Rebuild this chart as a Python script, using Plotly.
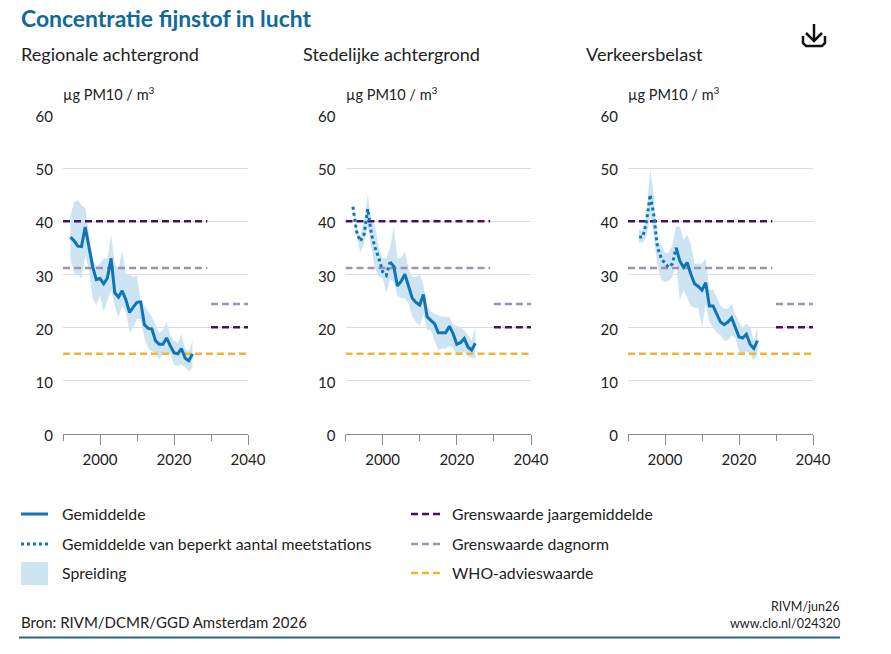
import plotly.graph_objects as go

W = 891
H = 654

# jaren
years_reg = list(range(1992, 2026))
years_ste = list(range(1992, 2026))
years_ver = list(range(1993, 2026))

# regionale achtergrond
reg_mean = [37, 36.3, 35.3, 35.2, 38.9, 35, 31.5, 29, 29.2, 28.2, 29.3, 33, 26.5, 25.7, 26.9, 25.2, 22.8,
            23.8, 24.7, 24.8, 20.5, 19.8, 19.7, 17.5, 16.8, 16.8, 18, 16.5, 15.2, 15, 16, 14.2, 13.7, 15]
reg_high = [41, 43.5, 44, 43, 42.5, 38, 33, 31.5, 32, 33, 33, 37.5, 32, 31, 34.5, 30, 30,
            29.5, 29.7, 25, 24, 23.2, 22, 20.5, 19, 19.5, 21, 18.5, 17.5, 17, 18.7, 16, 15.5, 17.5]
reg_low = [33, 30.2, 30, 29.2, 33.5, 31, 25.5, 24.2, 26, 23, 25, 27, 24, 22, 24, 23, 19,
           20, 21.5, 21.5, 18, 16, 15.5, 15.2, 14, 15, 15, 15, 13, 12.7, 13, 12.5, 11.7, 12.5]

# stedelijke achtergrond
ste_dot_years = list(range(1992, 2003))
ste_dot = [42.7, 38, 36.2, 37.5, 42.3, 37.5, 35, 33, 30.5, 29.8, 32.3]
ste_line_years = list(range(2002, 2026))
ste_line = [32.3, 31.5, 27.8, 28.7, 30, 27.8, 25.5, 24.7, 24.2, 26.2, 22, 21.3, 20.7, 19, 19, 19,
            20.2, 18.8, 16.8, 17.1, 17.9, 16.3, 15.7, 17]
ste_high = [42.7, 39, 37, 40, 45, 40, 39, 35, 33, 33, 35, 39, 33, 33, 34.3, 31, 29.5, 29.5, 30, 28,
            24, 23, 22.5, 22.3, 22, 22, 22, 20.5, 20.2, 20, 19.5, 18.5, 17.5, 20]
ste_low = [42.7, 37, 34, 36, 39, 35, 31, 29.5, 29.3, 26.5, 29, 28.5, 26, 25.5, 25.5, 24.5, 22, 21, 20.3, 22.5,
           19.5, 19.5, 17.5, 15.8, 16, 16, 16.5, 16, 15, 14.8, 15.5, 14.5, 14.2, 14.2]

# verkeersbelast
ver_dot_years = list(range(1993, 2004))
ver_dot = [37, 37, 40, 45, 41, 35, 33, 32, 31.3, 32, 35]
ver_line_years = list(range(2003, 2026))
ver_line = [35, 32.5, 31.3, 32.2, 30, 28.2, 27.7, 27, 28.4, 24, 24, 22.6, 21, 20.5, 21, 21.8, 20,
            18.2, 18, 18.7, 16.8, 16, 17.5]
ver_high = [38.5, 38, 41, 50, 44.5, 36, 35.5, 34, 34, 35.5, 39, 39, 36.5, 37.5, 35.5, 32, 32, 32, 33,
            27, 27.2, 25.5, 24, 23.5, 23.5, 24.5, 22.5, 21, 20, 20.7, 20, 17.5, 20]
ver_low = [36, 36, 37, 41, 37, 31.5, 29, 28.5, 28.8, 29.5, 32, 25, 27, 25.5, 24, 23.7, 23.7, 20, 24.5,
           21, 20, 19, 18.5, 17.5, 17.5, 18.5, 18, 15.5, 15, 15.5, 15, 13.7, 15]

# grenswaarden
limit_years = [1990, 2029]
future_years = [2030, 2040]
who_years = [1990, 2040]
jaar_now = 40
jaar_future = 20
dag_now = 31.2
dag_future = 24.4
who = 15

y_ticks = [0, 10, 20, 30, 40, 50, 60]
x_major = [2000, 2020, 2040]
x_minor = [1990, 2010, 2030]

titles = ["Regionale achtergrond", "Stedelijke achtergrond", "Verkeersbelast"]
legend_left = ["Gemiddelde", "Gemiddelde van beperkt aantal meetstations", "Spreiding"]
legend_right = ["Grenswaarde jaargemiddelde", "Grenswaarde dagnorm", "WHO-advieswaarde"]

BLUE = "#0f75b5"
BAND = "#cde4f3"
VIOLET = "#42145f"
LILAC = "#a191b5"
YELLOW = "#f2b632"
TEXT = "#222222"
FONT = "Lato"
DASH = "7px,4px"

panels = [
    dict(x0=63, x1=248, band_x=years_reg, high=reg_high, low=reg_low, dot_x=None, dot=None,
         line_x=years_reg, line=reg_mean),
    dict(x0=345.5, x1=531, band_x=years_ste, high=ste_high, low=ste_low, dot_x=ste_dot_years, dot=ste_dot,
         line_x=ste_line_years, line=ste_line),
    dict(x0=628, x1=813, band_x=years_ver, high=ver_high, low=ver_low, dot_x=ver_dot_years, dot=ver_dot,
         line_x=ver_line_years, line=ver_line),
]


def px(x):
    return x / W


def py(y):
    return 1 - y / H


def label(x, y, text, size=15.8, color=TEXT, anchor="left", family=FONT):
    # annotaties krijgen standaard een rand van 1px + pad, dat hier terugschuiven
    shift = -2 if anchor == "left" else 2
    return dict(xref="paper", yref="paper", x=px(x), y=py(y), text=text, showarrow=False, xanchor=anchor,
                yanchor="middle", align=anchor, xshift=shift, yshift=1,
                font=dict(family=family, size=size, color=color))


fig = go.Figure()
annotations = []
shapes = []

for i, p in enumerate(panels):
    n = "" if i == 0 else str(i + 1)
    xa = "x" + n
    ya = "y" + n
    fig.update_layout({
        "xaxis" + n: dict(
            domain=[px(p["x0"]), px(p["x1"])], range=[1990, 2040], anchor=ya, showgrid=False, zeroline=False,
            showline=True, linecolor="#8a8a8a", linewidth=1, tickvals=x_major, ticks="outside", ticklen=10,
            tickcolor="#8a8a8a", tickfont=dict(family=FONT, size=15, color=TEXT), automargin=False,
            ticklabelstandoff=2,
            minor=dict(tickvals=x_minor, ticks="outside", ticklen=6, tickcolor="#8a8a8a"),
        ),
        "yaxis" + n: dict(
            domain=[py(433.5), py(115)], range=[0, 60], anchor=xa, tickvals=y_ticks, showgrid=True,
            gridcolor="#dcdcdc", gridwidth=1, zeroline=False, showline=False, ticks="outside", ticklen=6,
            tickcolor="rgba(0,0,0,0)", tickfont=dict(family=FONT, size=15, color=TEXT), automargin=False,
            ticklabelshift=2,
        ),
    })
    common = dict(xaxis=xa, yaxis=ya, mode="lines", showlegend=False, hoverinfo="skip")
    fig.add_trace(go.Scatter(x=p["band_x"] + p["band_x"][::-1], y=p["high"] + p["low"][::-1], fill="toself",
                             fillcolor=BAND, line=dict(width=0), **common))
    for xs, val, col in [(limit_years, jaar_now, VIOLET), (future_years, jaar_future, VIOLET),
                         (limit_years, dag_now, LILAC), (future_years, dag_future, LILAC),
                         (who_years, who, YELLOW)]:
        fig.add_trace(go.Scatter(x=xs, y=[val, val], line=dict(color=col, width=2.5, dash=DASH), **common))
    if p["dot"]:
        fig.add_trace(go.Scatter(x=p["dot_x"], y=p["dot"], line=dict(color=BLUE, width=3, dash="3px,3px"), **common))
    fig.add_trace(go.Scatter(x=p["line_x"], y=p["line"], line=dict(color=BLUE, width=3), **common))
    annotations.append(label(p["x0"] - 42.5, 55, titles[i], size=18.1))
    annotations.append(label(p["x0"], 94, "µg PM10 / m<sup>3</sup>", size=14.5))

# kop en voetregels
annotations.append(label(21, 19, "<b>Concentratie fijnstof in lucht</b>", size=22.9, color="#10699a"))
annotations.append(label(21, 623, "Bron: RIVM/DCMR/GGD Amsterdam 2026", size=15))
annotations.append(label(840, 607, "RIVM/jun26", size=12.5, anchor="right"))
annotations.append(label(840, 624, "www.clo.nl/024320", size=12.5, anchor="right"))
shapes.append(dict(type="line", xref="paper", yref="paper", x0=px(19), x1=px(840), y0=py(637.5), y1=py(637.5),
                   line=dict(color="#2a6a80", width=2)))

# legenda
rows = [514, 544, 573]
for y, txt in zip(rows, legend_left):
    annotations.append(label(62, y, txt))
for y, txt in zip(rows, legend_right):
    annotations.append(label(452, y, txt))
shapes.append(dict(type="line", xref="paper", yref="paper", x0=px(21), x1=px(48), y0=py(rows[0]), y1=py(rows[0]),
                   line=dict(color=BLUE, width=3)))
shapes.append(dict(type="line", xref="paper", yref="paper", x0=px(21), x1=px(48), y0=py(rows[1]), y1=py(rows[1]),
                   line=dict(color=BLUE, width=3, dash="3px,3px")))
shapes.append(dict(type="rect", xref="paper", yref="paper", x0=px(21), x1=px(48), y0=py(562), y1=py(585),
                   fillcolor=BAND, line=dict(width=0)))
for y, col in zip(rows, [VIOLET, LILAC, YELLOW]):
    shapes.append(dict(type="line", xref="paper", yref="paper", x0=px(411), x1=px(441), y0=py(y), y1=py(y),
                       line=dict(color=col, width=2.5, dash=DASH)))

# downloadknop
for pts in [[(814, 24), (814, 41)], [(806, 33), (814, 41), (822, 33)],
            [(803, 36), (803, 43), (806, 46), (822, 46), (825, 43), (825, 36)]]:
    path = "M " + " L ".join(f"{px(a)},{py(b)}" for a, b in pts)
    shapes.append(dict(type="path", xref="paper", yref="paper", path=path, line=dict(color="#111111", width=2.5)))

fig.update_layout(
    width=W,
    height=H,
    margin=dict(l=0, r=0, t=0, b=0, pad=0, autoexpand=False),
    paper_bgcolor="white",
    plot_bgcolor="white",
    showlegend=False,
    annotations=annotations,
    shapes=shapes,
)
fig.write_html("out.html", config={"displayModeBar": False}, post_script="document.body.style.margin='0';")
